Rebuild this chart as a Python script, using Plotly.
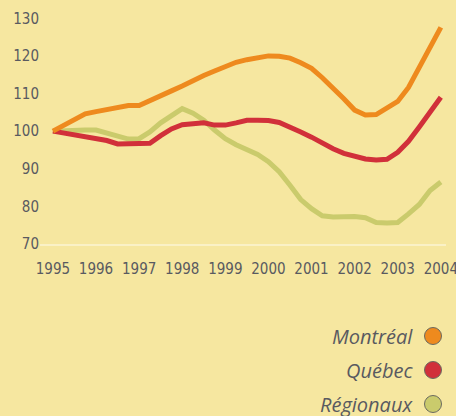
import plotly.graph_objects as go

years = [1995 + 0.25 * i for i in range(37)]

montreal = [100, 101.5, 103, 104.6, 105.2, 105.7, 106.3, 106.8, 106.8, 108.0, 109.3, 110.7,
            112.0, 113.5, 114.8, 116.0, 117.2, 118.3, 119.0, 119.6, 120.0, 119.9, 119.4, 118.2,
            116.7, 114.2, 111.6, 108.6, 105.6, 104.3, 104.4, 106.0, 107.9, 111.6, 116.8, 122.3, 127.6]

quebec = [100, 99.5, 99.0, 98.5, 98.0, 97.5, 96.6, 96.6, 96.7, 96.8, 98.8, 100.6,
          101.7, 102.0, 102.2, 101.6, 101.6, 102.2, 102.9, 102.9, 102.8, 102.3, 101.2, 99.8,
          98.4, 96.8, 95.3, 94.1, 93.3, 92.6, 92.3, 92.5, 94.4, 97.3, 101.1, 105.0, 109.0]

regionaux = [100, 100.2, 100.3, 100.3, 100.3, 99.5, 98.6, 97.9, 98.0, 99.8, 102.2, 104.2,
             106.0, 104.8, 102.9, 100.3, 98.0, 96.4, 95.0, 93.8, 91.9, 89.2, 85.6, 81.8,
             79.4, 77.5, 77.2, 77.3, 77.3, 77.0, 75.7, 75.6, 75.7, 78.0, 80.5, 84.2, 86.5]

series_names = ["Montréal", "Québec", "Régionaux"]
series_colors = ["#EE8A1E", "#D1303A", "#CACB6C"]
year_ticks = list(range(1995, 2005))
y_ticks = [70, 80, 90, 100, 110, 120, 130]

BG = "#F6E7A0"
TXT = "#595A60"

W, H = 456, 416
ML, MR, MT, MB = 40, 10, 7, 172
PW = W - ML - MR
PH = H - MT - MB


def px_to_paper_x(px):
    return (px - ML) / PW


def py_to_paper_y(py):
    return (H - MB - py) / PH


fig = go.Figure()
data = {"Montréal": montreal, "Québec": quebec, "Régionaux": regionaux}
# draw order: Régionaux, Québec, Montréal (Montréal on top)
for name in reversed(series_names):
    color = series_colors[series_names.index(name)]
    fig.add_trace(go.Scatter(x=years, y=data[name], mode="lines", name=name,
                             line=dict(color=color, width=5), showlegend=False,
                             hoverinfo="skip"))

# custom legend (text + circles) at bottom right
legend_y = [336, 370, 404]
for name, color, py in zip(series_names, series_colors, legend_y):
    fig.add_annotation(xref="paper", yref="paper", x=px_to_paper_x(415), y=py_to_paper_y(py),
                       text=f"<i>{name}</i>", showarrow=False, xanchor="right", yanchor="middle",
                       font=dict(family="Open Sans", size=20, color=TXT))
    r = 8.5
    fig.add_shape(type="circle", xref="paper", yref="paper",
                  x0=px_to_paper_x(433 - r), x1=px_to_paper_x(433 + r),
                  y0=py_to_paper_y(py + r), y1=py_to_paper_y(py - r),
                  fillcolor=color, line=dict(color="#6A6A60", width=1))

fig.update_layout(
    width=W, height=H,
    paper_bgcolor=BG, plot_bgcolor=BG,
    margin=dict(l=ML, r=MR, t=MT, b=MB, autoexpand=False),
    showlegend=False,
    font=dict(family="DejaVu Sans Condensed", color=TXT, size=15),
)
fig.update_xaxes(range=[1994.7, 2004.12], tickvals=year_ticks, ticktext=[str(y) for y in year_ticks],
                 showgrid=False, zeroline=False, showline=True, linecolor="#FAF1C6", linewidth=2,
                 ticks="", ticklabelstandoff=10, ticklabeloverflow="allow", automargin=False,
                 tickfont=dict(size=15, color=TXT))
fig.update_yaxes(range=[70, 133], tickvals=y_ticks, showgrid=False, zeroline=False,
                 showline=False, ticks="", automargin=False, tickfont=dict(size=15, color=TXT))

fig.write_html("out.html", config={"displayModeBar": False},
               post_script="document.body.style.margin='0';")
